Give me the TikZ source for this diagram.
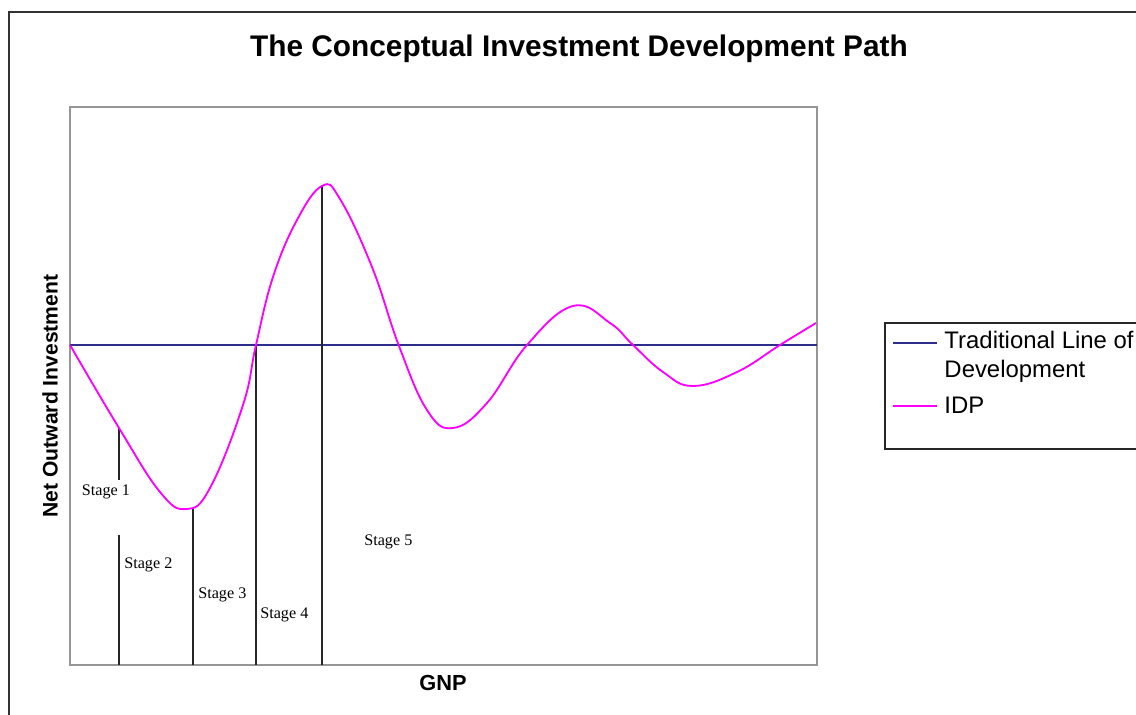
\documentclass[tikz,border=0pt]{standalone}
\usepackage{fontspec}
\setmainfont{Liberation Serif}
\setsansfont{Liberation Sans}
\definecolor{tradblue}{RGB}{45,45,140}
\definecolor{idpmag}{RGB}{255,0,255}
\definecolor{framegray}{RGB}{150,150,150}
\begin{document}
\begin{tikzpicture}[x=0.025cm, y=-0.025cm]
        \useasboundingbox (0,0) rectangle (1136,715);
        %\draw [help lines, step=50] (0,0) grid (1136,715);
        \draw [line width=1.4pt, black!80] (9,715) -- (9,12) -- (1136,12);
        \draw [line width=1.4pt, framegray] (70,107) rectangle (817,665);
        \draw [line width=1.4pt, tradblue] (70,345) -- (817,345);

        % stage lines
        \draw [line width=1.3pt, black!85] (119,428) -- (119,480);
        \draw [line width=1.3pt, black!85] (119,535) -- (119,665);
        \draw [line width=1.3pt, black!85] (193,508) -- (193,665);
        \draw [line width=1.3pt, black!85] (256,345) -- (256,665);
        \draw [line width=1.3pt, black!85] (322,185) -- (322,665);

        \draw [line width=1.3pt, idpmag] plot [smooth, tension=0.7] coordinates {
            (70,345) (119,428) (160,492) (186,509) (210,488) (243,405) (256,345)
            (273,277) (297,220) (322,186) (340,199) (372,267) (399,346) (427,410)
            (453,428) (487,403) (527,345) (573,306) (610,323) (633,345) (663,372)
            (693,386) (737,372) (780,345) (816,323)};

        %\draw [fill=black] (322,185) circle [radius=3];
        \node (title) [font=\sffamily\bfseries, scale=2.12] at (579,49) {The Conceptual Investment Development Path};
        \node (ylabel) [font=\sffamily\bfseries, scale=1.5, rotate=90] at (50,396) {Net Outward Investment};
        \node (gnp) [font=\sffamily\bfseries, scale=1.55] at (443,683) {GNP};

        \node (stage1) [scale=1.15] at (106,492) {Stage 1};
        \node (stage2) [scale=1.15, right, inner sep=0pt] at (124,565) {Stage 2};
        \node (stage3) [scale=1.15, right, inner sep=0pt] at (198,595) {Stage 3};
        \node (stage4) [scale=1.15, right, inner sep=0pt] at (260,615) {Stage 4};
        \node (stage5) [scale=1.15, right, inner sep=0pt] at (364,542) {Stage 5};

        % legend
        \draw [line width=1.4pt, black!85] (1150,323) -- (885,323) -- (885,449) -- (1150,449);
        \draw [line width=1.3pt, tradblue] (893,343) -- (937,343);
        \draw [line width=1.3pt, idpmag] (893,406) -- (937,406);
        \node (trad) [font=\sffamily, scale=1.7, inner sep=0pt, align=left, anchor=north west] at (944,331) {Traditional Line of\\Development};
        \node (idp) [font=\sffamily, scale=1.7, right, inner sep=0pt] at (944,405) {IDP};
\end{tikzpicture}
\end{document}
